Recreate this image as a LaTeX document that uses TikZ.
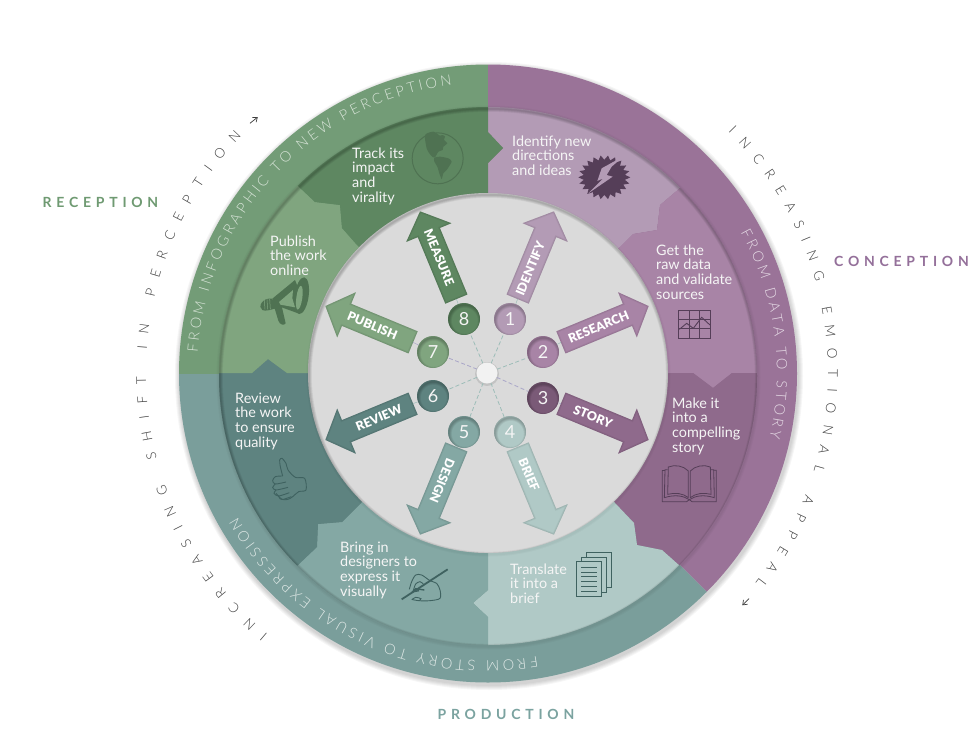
\documentclass[tikz,border=0pt]{standalone}
\usepackage{fontspec}
\usetikzlibrary{decorations.text,arrows.meta}
\setmainfont{Lato}
\newfontfamily\latolight{Lato Light}
\newfontfamily\latoblack{Lato Black}
\newfontfamily\latobold{Lato Bold}
\definecolor{outerP}{HTML}{9A7398}
\definecolor{outerT}{HTML}{7A9E9B}
\definecolor{outerG}{HTML}{739C77}
\definecolor{segA}{HTML}{B39BB5}
\definecolor{segB}{HTML}{A884A6}
\definecolor{segC}{HTML}{8F6A8C}
\definecolor{segD}{HTML}{B0C9C6}
\definecolor{segE}{HTML}{84A8A4}
\definecolor{segF}{HTML}{5E8380}
\definecolor{segG}{HTML}{80A57F}
\definecolor{segH}{HTML}{5E8761}
\definecolor{disk}{HTML}{DADADA}
\definecolor{icP}{HTML}{553E58}
\definecolor{icT}{HTML}{3F6260}
\definecolor{icG}{HTML}{4F7252}
\definecolor{dashT}{HTML}{9DBDB8}
\definecolor{dashL}{HTML}{A9A6C8}
\definecolor{labG}{HTML}{6F9A72}
\definecolor{labP}{HTML}{94709A}
\definecolor{labT}{HTML}{7BA3A0}
\definecolor{arcG}{HTML}{D8E4D8}
\definecolor{arcP}{HTML}{E6DBE6}
\definecolor{arcT}{HTML}{E0E9E7}
\definecolor{ink}{HTML}{3C3C3C}
\newcommand\bodyf{\fontsize{14.4}{14.6}\selectfont}
\newcommand\arcf{\latolight\fontsize{14.5}{15}\selectfont}
\newcommand\outf{\latolight\fontsize{13.5}{14}\selectfont}
\newcommand\arrf{\latoblack\fontsize{12.5}{13}\selectfont}
\newcommand\capf{\latobold\fontsize{14}{14}\selectfont\addfontfeature{LetterSpace=34}}
\tikzset{
 zm/.style 2 args={shift={(#1,#2)},x=.33333pt,y=-.33333pt},
 centered/.style={shift={(487,373)},y=1pt},
 bodytext/.style={font=\bodyf,text=white!96!black,align=left,anchor=north west,inner sep=0pt},
 dashline/.style={dashed,dash pattern=on 4pt off 2.5pt,line width=.8pt},
 numnode/.style={circle,minimum size=32pt,inner sep=0pt,text=white!96!black,font=\fontsize{18}{18}\selectfont},
 arrtext/.style={font=\arrf,text=white,inner sep=1pt},
 capt/.style={font=\capf,inner sep=0pt},
 thinline/.style={line width=.8pt},
 tinyarrow/.style={ink,line width=.7pt,-{Straight Barb[length=4pt,width=6pt]}}
}
\newcommand\innershade[3]{%
 \begin{scope}
 \clip (#1,#2) circle (#3pt);
 \foreach \w in {1,...,6}{\draw[black,opacity=.04,line width=\w*1pt] (#1+.8,#2+1.8) circle (#3pt);}
 \end{scope}}
\newcommand\wheeldot[5]{% name x y colour number
 \fill[#4] (#2,#3) circle (16pt);
 \innershade{#2}{#3}{16}
 \node[numnode] (#1) at (#2,#3) {#5};}
\def\arrowpath{(80,-12)--(152,-12)--(152,-24.5)--(175,0)--(152,24.5)--(152,12)--(80,12)--cycle}
\newcommand\wheelarrow[6]{% name angle colour text textrot radius
 \begin{scope}[centered,rotate=#2]
  \fill[#3] \arrowpath;
  \begin{scope}
   \clip \arrowpath;
   \foreach \w in {1,...,3}{\draw[black,opacity=.035,line width=\w*1.1pt] \arrowpath;}
  \end{scope}
  \coordinate (#1) at (80,0);
 \end{scope}
 \begin{scope}[centered]
  \node[arrtext,rotate=#5] (#1text) at (#2:#6pt) {#4};
 \end{scope}}
\begin{document}
\begin{tikzpicture}[x=1pt,y=-1pt]
\useasboundingbox (0,0) rectangle (975,747);
\fill[white] (0,0) rectangle (975,747);
% outer drop shadow
\foreach \r in {1,...,5}{\fill[black,opacity=.035] (489,376) circle ({309+\r*1pt});}
% outer ring
\begin{scope}
 \clip (488,373.5) circle (309pt);
 \fill[outerP] (488,373.5)--(488,40)--(830,40)--(830,715)--cycle;
 \fill[outerT] (488,373.5)--(830,715)--(830,720)--(150,720)--(150,373.5)--cycle;
 \fill[outerG] (488,373.5)--(150,373.5)--(150,40)--(488,40)--cycle;
\end{scope}
% soft shade of the middle ring on the outer ring
\foreach \r in {1,2,3}{\fill[black,opacity=.025] (488.5,377.5) circle ({269+\r*1pt});}
% middle ring
\begin{scope}
 \clip (488,376) circle (269pt);
 \fill[segA] (488,373)--(488,163)--(503,148)--(488,132)--(488,80)--(720,80)--(720,154)--(680,188)--(660,205)--(657,230)--(633,234)--(620,247)--cycle;
 \fill[segB] (488,373)--(620,247)--(633,234)--(657,230)--(660,205)--(680,188)--(720,154)--(800,154)--(800,373)--(732,373)--(713,388)--(693,373)--cycle;
 \fill[segC] (488,373)--(693,373)--(713,388)--(732,373)--(800,373)--(800,606)--(720,606)--(680,566)--(662,550)--(637,545)--(634,523)--(615,503)--cycle;
 \fill[segD] (488,373)--(615,503)--(634,523)--(637,545)--(662,550)--(680,566)--(720,606)--(720,680)--(488,680)--(488,617)--(473,603)--(488,590)--cycle;
 \fill[segE] (488,373)--(488,590)--(473,603)--(488,617)--(488,680)--(250,680)--(260,601)--(298,565)--(317,547)--(318,524)--(342,522)--(361,503)--cycle;
 \fill[segF] (488,373)--(361,503)--(342,522)--(318,524)--(317,547)--(298,565)--(260,601)--(180,601)--(180,373)--(252,373)--(268,359)--(287,373)--cycle;
 \fill[segG] (488,373)--(287,373)--(268,359)--(252,373)--(180,373)--(180,150)--(264,154)--(298,186)--(315,202)--(340,205)--(342,228)--(357,245)--cycle;
 \fill[segH] (488,373)--(357,245)--(342,228)--(340,205)--(315,202)--(298,186)--(264,154)--(264,80)--(488,80)--(488,132)--(503,148)--(488,163)--cycle;
\end{scope}
\innershade{488}{376}{269}
% inner disk
\foreach \r in {1,2}{\fill[black,opacity=.025] (488.5,374.5) circle ({180+\r*1pt});}
\fill[disk] (488,373) circle (180pt);
\innershade{488}{373}{180}
% arc texts
\begin{scope}[centered]
 \path[decorate,decoration={text along path,text align=fit to path,text={|\arcf\color{arcG}|FROM INFOGRAPHIC TO NEW PERCEPTION}}] (176:290pt) arc[start angle=176,end angle=97,radius=290pt];
 \path[decorate,decoration={text along path,text align=fit to path,text={|\arcf\color{arcP}|FROM DATA TO STORY}}] (29:290pt) arc[start angle=29,end angle=-13,radius=290pt];
 \path[decorate,decoration={text along path,text align=fit to path,text={|\arcf\color{arcT}|FROM STORY TO VISUAL EXPRESSION}}] (-80:288pt) arc[start angle=-80,end angle=-150,radius=288pt];
 \path[decorate,decoration={text along path,text align=fit to path,text={|\outf\color{ink}|INCREASING EMOTIONAL APPEAL}}] (45:341pt) arc[start angle=45,end angle=-38,radius=341pt];
 \path[decorate,decoration={text along path,text align=fit to path,text={|\outf\color{ink}|INCREASING SHIFT IN PERCEPTION}}] (230:341pt) arc[start angle=230,end angle=136,radius=341pt];
\end{scope}
\coordinate (cwA) at (250,123.3);
\coordinate (cwB) at (257.8,117);
\coordinate (cwC) at (749,598.7);
\coordinate (cwD) at (742.3,605.3);
\draw[tinyarrow] (cwA) -- (cwB);
\draw[tinyarrow] (cwC) -- (cwD);
% captions
\node[capt,text=labG] (recep) at (100.5,202) {RECEPTION};
\node[capt,text=labP] (concep) at (901.5,261) {CONCEPTION};
\node[capt,text=labT] (produc) at (506,714) {PRODUCTION};
% body texts
\node[bodytext] (t1) at (512,135.5) {Identify new\\directions\\and ideas};
\node[bodytext] (t2) at (656,244.5) {Get the\\raw data\\and validate\\sources};
\node[bodytext] (t3) at (672,397.5) {Make it\\into a\\compelling\\story};
\node[bodytext] (t4) at (510,563.5) {Translate\\it into a\\brief};
\node[bodytext] (t5) at (340,541.5) {Bring in\\designers to\\express it\\visually};
\node[bodytext] (t6) at (235,392.5) {Review\\the work\\to ensure\\quality};
\node[bodytext] (t7) at (270,235.5) {Publish\\the work\\online};
\node[bodytext] (t8) at (352,147.5) {Track its\\impact\\and\\virality};
% icon 1: burst
\begin{scope}[zm={570}{145}]
 \fill[icP] plot[samples at={0,...,43},variable=\k] ({103+78*(1-.2*mod(\k,2))*cos(\k*360/44)},{97+66*(1-.2*mod(\k,2))*sin(\k*360/44)}) -- cycle;
 \fill[segA] (162,33)--(95,70)--(82,108)--(100,100)--(55,145)--(128,95)--(110,90)--(125,65)--cycle;
\end{scope}
% icon 2: chart
\begin{scope}[zm={480}{60},icP,line width=.5pt]
 \draw[line width=.9pt] (595,752) rectangle (690,835);
 \draw (627,752)--(627,835) (658,752)--(658,835) (595,778)--(690,778) (595,805)--(690,805);
 \draw[line width=.9pt] (598,808)--(620,790)--(640,805)--(665,772)--(690,795);
\end{scope}
% icon 3: book
\begin{scope}[zm={655}{455},icP,line width=.8pt]
 \draw (100,48) .. controls (85,32) and (60,28) .. (40,36) -- (38,118) .. controls (60,112) and (85,115) .. (100,128) -- cycle;
 \draw (106,48) .. controls (121,32) and (146,28) .. (166,36) -- (168,118) .. controls (146,112) and (121,115) .. (106,128) -- cycle;
 \draw (38,44)--(30,44)--(28,128) .. controls (60,118) and (85,122) .. (103,134) .. controls (121,122) and (146,118) .. (178,128)--(176,44)--(168,44);
 \draw (22,46)--(22,140)--(95,140)--(103,134)--(111,140)--(184,140)--(184,46)--(176,46);
 \draw (30,46)--(22,46);
\end{scope}
% icon 4: documents
\begin{scope}[zm={570}{545},draw=icT,fill=segD,line width=1pt]
 \filldraw (48,22) rectangle (125,128);
 \filldraw (33,37) rectangle (110,142);
 \filldraw (20,50) rectangle (95,155);
 \foreach \yy in {68,81,95,110,124,138}{\draw (33,\yy)--(82,\yy);}
\end{scope}
% icon 5: hand with pen
\begin{scope}[zm={395}{560},icT,line width=.9pt]
 \draw[line width=1.8pt] (20,118)--(158,28);
 \draw plot[smooth] coordinates {(43,88) (50,65) (62,45) (80,45) (105,62) (125,70) (135,90) (135,115) (105,122) (70,122) (50,118)};
 \draw plot[smooth] coordinates {(55,92) (62,72) (75,65) (85,72)};
 \draw plot[smooth] coordinates {(52,118) (62,112) (78,116) (72,122)};
 \draw[line width=1.4pt] (50,98) -- (62,86) -- (88,90) (55,95) -- (72,92);
\end{scope}
% icon 6: thumb
\begin{scope}[zm={262}{450},icT,line width=.9pt]
 \draw plot[smooth] coordinates {(62,78) (55,50) (53,30) (60,25) (72,40) (78,60) (100,82) (128,85) (132,120) (110,125) (92,140) (78,148) (60,148) (42,130)};
 \draw plot[smooth] coordinates {(62,78) (40,80) (32,92) (40,102) (72,96)};
 \draw plot[smooth] coordinates {(40,102) (32,112) (42,120) (78,112)};
 \draw plot[smooth] coordinates {(42,120) (36,130) (50,138) (82,128)};
 \draw plot[smooth] coordinates {(50,138) (54,146) (64,148) (88,140)};
\end{scope}
% icon 7: megaphone
\begin{scope}[zm={255}{270},icG]
 \fill (52,86)--(120,30)--(138,75)--(135,132)--(80,112)--(50,118)--cycle;
 \fill[rotate around={-8:(140,77)}] (140,77) ellipse (7pt and 18.5pt);
 \fill (58,112)--(80,108)--(92,160) .. controls (88,167) and (74,165) .. (70,152) -- cycle;
 \fill (52,86) .. controls (20,82) and (8,112) .. (22,120) .. controls (32,124) and (44,120) .. (52,118) -- cycle;
 \fill[segG] (72,96)--(114,60)--(112,85)--(120,112)--(76,104)--cycle;
 \fill[segG,rotate around={-8:(133,83)}] (133,83) ellipse (3pt and 12pt);
 \draw[segG,line width=.5pt] (28,90)--(30,118) (36,88)--(38,118) (44,87)--(46,118);
\end{scope}
% icon 8: globe
\begin{scope}[zm={400}{125},icG]
 \draw[line width=1pt] (113,100) circle (25.5pt);
 \fill plot[smooth cycle,tension=.4] coordinates {(75,30) (100,20) (120,32) (128,30) (135,35) (132,45) (142,55) (130,65) (128,75) (115,80) (105,97) (97,95) (88,85) (80,70)};
 \fill plot[smooth cycle,tension=.4] coordinates {(103,98) (120,95) (145,100) (155,110) (140,135) (130,145) (125,162) (118,145) (112,125) (103,110)};
\end{scope}
% arrows
\wheelarrow{a1}{67.5}{segA}{IDENTIFY}{67.5}{113}
\wheelarrow{a2}{22.5}{segB}{RESEARCH}{22.5}{120.7}
\wheelarrow{a3}{-22.5}{segC}{STORY}{-22.5}{114.7}
\wheelarrow{a4}{-67.5}{segD}{BRIEF}{-67.5}{110}
\wheelarrow{a5}{-112.5}{segE}{DESIGN}{-112.5}{117}
\wheelarrow{a6}{-157.5}{segF}{REVIEW}{22.5}{117}
\wheelarrow{a7}{157.5}{segG}{PUBLISH}{-22.5}{124}
\wheelarrow{a8}{112.5}{segH}{MEASURE}{-67.5}{125}
% hub and dots
\wheeldot{n1}{510}{319}{segA}{1}
\wheeldot{n2}{543}{352}{segB}{2}
\wheeldot{n3}{543}{398}{segC!85!black}{3}
\wheeldot{n4}{510}{432}{segD}{4}
\wheeldot{n5}{464}{432}{segE}{5}
\wheeldot{n6}{433}{396}{segF}{6}
\wheeldot{n7}{433}{352}{segG}{7}
\wheeldot{n8}{464}{319}{segH}{8}
\fill[black,opacity=.1] (487,374) circle (12pt);
\node[circle,fill=white!95!black,minimum size=21pt,inner sep=0pt] (hub) at (487,373) {};
\draw[dashline,dashT] (hub)--(n1);
\draw[dashline,dashT] (hub)--(n2);
\draw[dashline,dashL] (hub)--(n3);
\draw[dashline,dashT] (hub)--(n4);
\draw[dashline,dashT] (hub)--(n5);
\draw[dashline,dashT] (hub)--(n6);
\draw[dashline,dashL] (hub)--(n7);
\draw[dashline,dashT] (hub)--(n8);
\draw[dashT,line width=.5pt] (n1)--(a1) (n2)--(a2) (n4)--(a4) (n5)--(a5) (n6)--(a6) (n8)--(a8);
\draw[dashL,line width=.5pt] (n3)--(a3) (n7)--(a7);
\end{tikzpicture}
\end{document}
